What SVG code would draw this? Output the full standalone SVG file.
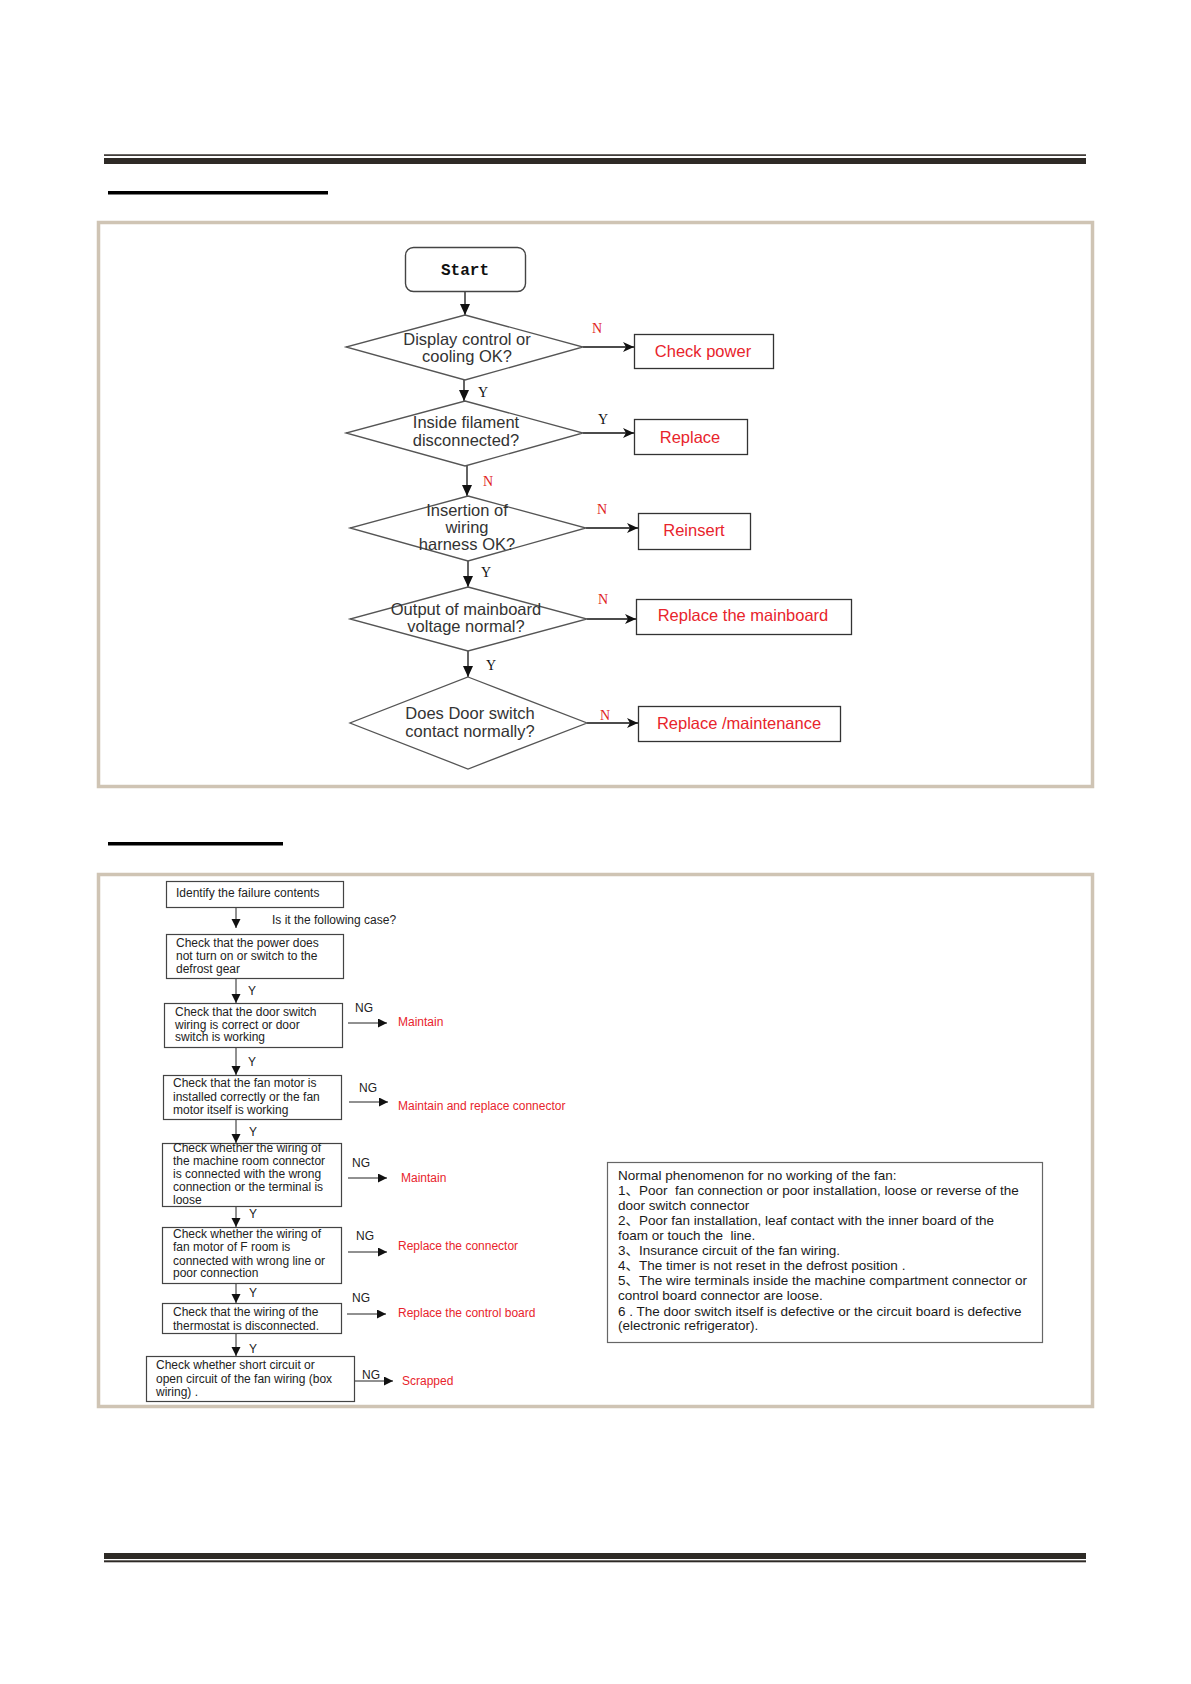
<svg xmlns="http://www.w3.org/2000/svg" width="1191" height="1684" viewBox="0 0 1191 1684">
<style>
.bar{fill:#2e2a26}
.frame{fill:none;stroke:#cfc4b4;stroke-width:3.5}
.dia{fill:#fff;stroke:#555;stroke-width:1.3}
.rbox{fill:#fff;stroke:#333;stroke-width:1.3}
.sbox{fill:#fff;stroke:#444;stroke-width:1.2}
.ln{stroke:#111;stroke-width:1.3;fill:none}
.ln2{stroke:#222;stroke-width:1;fill:none}
.t1{font-family:"Liberation Sans",Arial,sans-serif;font-size:16.5px;fill:#333;text-anchor:middle}
.red1{font-family:"Liberation Sans",Arial,sans-serif;font-size:16.5px;fill:#e8242c;text-anchor:middle}
.yn{font-family:"Liberation Serif","Times New Roman",serif;font-size:14px}
.yr{fill:#e01e1e}
.yb{fill:#111}
.st{font-family:"Liberation Mono","Courier New",monospace;font-size:16px;font-weight:bold;fill:#111;text-anchor:middle}
.t2{font-family:"Liberation Sans",Arial,sans-serif;font-size:12px;fill:#222}
.red2{font-family:"Liberation Sans",Arial,sans-serif;font-size:12px;fill:#e8242c}
.note{font-family:"Liberation Sans",Arial,"Noto Sans CJK SC",sans-serif;font-size:13.5px;fill:#1a1a1a;white-space:pre}
</style>
<defs>
<marker id="ah" markerUnits="userSpaceOnUse" markerWidth="12" markerHeight="12" refX="11" refY="5" orient="auto">
<path d="M0,0 L11,5 L0,10 z" fill="#111"/>
</marker>
<marker id="ah2" markerUnits="userSpaceOnUse" markerWidth="12" markerHeight="12" refX="11" refY="5" orient="auto">
<path d="M0,0 L11,5 L0,10 L3,5 z" fill="#111"/>
</marker>
<marker id="ah3" markerUnits="userSpaceOnUse" markerWidth="10" markerHeight="10" refX="9" refY="4.5" orient="auto">
<path d="M0,0 L9,4.5 L0,9 z" fill="#111"/>
</marker>
</defs>
<rect width="1191" height="1684" fill="#fff"/>

<!-- page header / footer -->
<g id="header">
<rect x="104" y="154.3" width="982" height="1.6" class="bar"/>
<rect x="104" y="158" width="982" height="6" class="bar"/>
<rect x="108" y="191" width="220" height="3.5" fill="#000"/>
</g>
<g id="footer">
<rect x="104" y="1553" width="982" height="6" class="bar"/>
<rect x="104" y="1560.3" width="982" height="2" class="bar"/>
<rect x="108" y="842" width="175" height="3.5" fill="#000"/>
</g>

<!-- frames -->
<rect x="98.5" y="222.5" width="994" height="564" class="frame"/>
<rect x="98.5" y="874.5" width="994" height="532" class="frame"/>

<!-- ============ Flowchart 1 ============ -->
<g id="connectors1">
<line x1="465" y1="291" x2="465" y2="315" class="ln" marker-end="url(#ah)"/>
<line x1="464" y1="380" x2="464" y2="401" class="ln" marker-end="url(#ah)"/>
<line x1="467" y1="466" x2="467" y2="496" class="ln" marker-end="url(#ah)"/>
<line x1="468" y1="561" x2="468" y2="587" class="ln" marker-end="url(#ah)"/>
<line x1="468" y1="651" x2="468" y2="677" class="ln" marker-end="url(#ah)"/>
<line x1="583" y1="347" x2="634" y2="347" class="ln" marker-end="url(#ah2)"/>
<line x1="583" y1="433" x2="634" y2="433" class="ln" marker-end="url(#ah2)"/>
<line x1="586" y1="528" x2="638" y2="528" class="ln" marker-end="url(#ah2)"/>
<line x1="587" y1="619" x2="636" y2="619" class="ln" marker-end="url(#ah2)"/>
<line x1="587" y1="723" x2="638" y2="723" class="ln" marker-end="url(#ah2)"/>
<text x="597" y="333" class="yn yr" text-anchor="middle">N</text>
<text x="483" y="397" class="yn yb" text-anchor="middle">Y</text>
<text x="603" y="424" class="yn yb" text-anchor="middle">Y</text>
<text x="488" y="486" class="yn yr" text-anchor="middle">N</text>
<text x="602" y="514" class="yn yr" text-anchor="middle">N</text>
<text x="486" y="577" class="yn yb" text-anchor="middle">Y</text>
<text x="603" y="604" class="yn yr" text-anchor="middle">N</text>
<text x="491" y="670" class="yn yb" text-anchor="middle">Y</text>
<text x="605" y="720" class="yn yr" text-anchor="middle">N</text>
</g>

<g id="start">
<rect x="405.5" y="247.5" width="120" height="44" rx="8" fill="#fff" stroke="#444" stroke-width="1.4"/>
<text x="465" y="275" class="st">Start</text>
</g>
<g id="d1">
<polygon points="465,315 583,347 465,380 346,347" class="dia"/>
<text x="467" y="345" class="t1">Display control or</text>
<text x="467" y="362" class="t1">cooling OK?</text>
</g>
<g id="d2">
<polygon points="465,401 583,433 465,466 346,433" class="dia"/>
<text x="466" y="428" class="t1">Inside filament</text>
<text x="466" y="446" class="t1">disconnected?</text>
</g>
<g id="d3">
<polygon points="468,496 586,528 468,561 350,528" class="dia"/>
<text x="467" y="516" class="t1">Insertion of</text>
<text x="467" y="533" class="t1">wiring</text>
<text x="467" y="550" class="t1">harness OK?</text>
</g>
<g id="d4">
<polygon points="468,587 587,619 468,651 350,619" class="dia"/>
<text x="466" y="615" class="t1">Output of mainboard</text>
<text x="466" y="632" class="t1">voltage normal?</text>
</g>
<g id="d5">
<polygon points="468,677 587,723 468,769 350,723" class="dia"/>
<text x="470" y="719" class="t1">Does Door switch</text>
<text x="470" y="737" class="t1">contact normally?</text>
</g>
<g id="checkpower">
<rect x="634.5" y="334.5" width="139" height="34" class="rbox"/>
<text x="703" y="357" class="red1">Check power</text>
</g>
<g id="replace">
<rect x="634.5" y="419.5" width="113" height="35" class="rbox"/>
<text x="690" y="443" class="red1">Replace</text>
</g>
<g id="reinsert">
<rect x="638.5" y="513.5" width="112" height="36" class="rbox"/>
<text x="694" y="536" class="red1">Reinsert</text>
</g>
<g id="mainboard">
<rect x="636.5" y="599.5" width="215" height="35" class="rbox"/>
<text x="743" y="621" class="red1">Replace the mainboard</text>
</g>
<g id="maintenance">
<rect x="638.5" y="706.5" width="202" height="35" class="rbox"/>
<text x="739" y="729" class="red1">Replace /maintenance</text>
</g>

<!-- ============ Flowchart 2 ============ -->
<g id="connectors2">
<line x1="236" y1="907" x2="236" y2="928" class="ln2" marker-end="url(#ah3)"/>
<line x1="236" y1="978" x2="236" y2="1003" class="ln2" marker-end="url(#ah3)"/>
<line x1="236" y1="1047" x2="236" y2="1075" class="ln2" marker-end="url(#ah3)"/>
<line x1="236" y1="1119" x2="236" y2="1143" class="ln2" marker-end="url(#ah3)"/>
<line x1="236" y1="1206" x2="236" y2="1227" class="ln2" marker-end="url(#ah3)"/>
<line x1="236" y1="1283" x2="236" y2="1303" class="ln2" marker-end="url(#ah3)"/>
<line x1="236" y1="1333" x2="236" y2="1356" class="ln2" marker-end="url(#ah3)"/>
<line x1="348" y1="1023" x2="387" y2="1023" class="ln2" marker-end="url(#ah3)"/>
<line x1="349" y1="1102" x2="388" y2="1102" class="ln2" marker-end="url(#ah3)"/>
<line x1="348" y1="1178" x2="387" y2="1178" class="ln2" marker-end="url(#ah3)"/>
<line x1="348" y1="1252" x2="387" y2="1252" class="ln2" marker-end="url(#ah3)"/>
<line x1="347" y1="1314" x2="386" y2="1314" class="ln2" marker-end="url(#ah3)"/>
<line x1="354" y1="1381" x2="393" y2="1381" class="ln2" marker-end="url(#ah3)"/>
<text x="272" y="924" class="t2">Is it the following case?</text>
<text x="248" y="995" class="t2">Y</text>
<text x="248" y="1066" class="t2">Y</text>
<text x="249" y="1136" class="t2">Y</text>
<text x="249" y="1218" class="t2">Y</text>
<text x="249" y="1297" class="t2">Y</text>
<text x="249" y="1353" class="t2">Y</text>
<text x="355" y="1012" class="t2">NG</text>
<text x="359" y="1092" class="t2">NG</text>
<text x="352" y="1167" class="t2">NG</text>
<text x="356" y="1240" class="t2">NG</text>
<text x="352" y="1302" class="t2">NG</text>
<text x="362" y="1379" class="t2">NG</text>
<text x="398" y="1026" class="red2">Maintain</text>
<text x="398" y="1110" class="red2">Maintain and replace connector</text>
<text x="401" y="1182" class="red2">Maintain</text>
<text x="398" y="1250" class="red2">Replace the connector</text>
<text x="398" y="1317" class="red2">Replace the control board</text>
<text x="402" y="1385" class="red2">Scrapped</text>
</g>
<g id="identify">
<rect x="166.5" y="881.5" width="177" height="26" class="sbox"/>
<text x="176" y="897" class="t2">Identify the failure contents</text>
</g>
<g id="power">
<rect x="166.5" y="934.5" width="177" height="44" class="sbox"/>
<text x="176" y="947" class="t2">Check that the power does</text>
<text x="176" y="960" class="t2">not turn on or switch to the</text>
<text x="176" y="973" class="t2">defrost gear</text>
</g>
<g id="doorswitch">
<rect x="164.5" y="1003.5" width="178" height="44" class="sbox"/>
<text x="175" y="1016" class="t2">Check that the door switch</text>
<text x="175" y="1029" class="t2">wiring is correct or door</text>
<text x="175" y="1041" class="t2">switch is working</text>
</g>
<g id="fanmotor">
<rect x="163.5" y="1075.5" width="178" height="44" class="sbox"/>
<text x="173" y="1087" class="t2">Check that the fan motor is</text>
<text x="173" y="1101" class="t2">installed correctly or the fan</text>
<text x="173" y="1114" class="t2">motor itself is working</text>
</g>
<g id="machineroom">
<rect x="162.5" y="1143.5" width="179" height="63" class="sbox"/>
<text x="173" y="1152" class="t2">Check whether the wiring of</text>
<text x="173" y="1165" class="t2">the machine room connector</text>
<text x="173" y="1178" class="t2">is connected with the wrong</text>
<text x="173" y="1191" class="t2">connection or the terminal is</text>
<text x="173" y="1204" class="t2">loose</text>
</g>
<g id="froom">
<rect x="162.5" y="1227.5" width="179" height="56" class="sbox"/>
<text x="173" y="1238" class="t2">Check whether the wiring of</text>
<text x="173" y="1251" class="t2">fan motor of F room is</text>
<text x="173" y="1265" class="t2">connected with wrong line or</text>
<text x="173" y="1277" class="t2">poor connection</text>
</g>
<g id="thermostat">
<rect x="162.5" y="1303.5" width="179" height="30" class="sbox"/>
<text x="173" y="1316" class="t2">Check that the wiring of the</text>
<text x="173" y="1330" class="t2">thermostat is disconnected.</text>
</g>
<g id="shortcircuit">
<rect x="146.5" y="1356.5" width="208" height="45" class="sbox"/>
<text x="156" y="1369" class="t2">Check whether short circuit or</text>
<text x="156" y="1383" class="t2">open circuit of the fan wiring (box</text>
<text x="156" y="1396" class="t2">wiring) .</text>
</g>
<g id="notes">
<rect x="607.5" y="1162.5" width="435" height="180" fill="#fff" stroke="#666" stroke-width="1.2"/>
<text x="618" y="1180" class="note">Normal phenomenon for no working of the fan:</text>
<text x="618" y="1195" class="note">1、Poor  fan connection or poor installation, loose or reverse of the</text>
<text x="618" y="1210" class="note">door switch connector</text>
<text x="618" y="1225" class="note">2、Poor fan installation, leaf contact with the inner board of the</text>
<text x="618" y="1240" class="note">foam or touch the  line.</text>
<text x="618" y="1255" class="note">3、Insurance circuit of the fan wiring.</text>
<text x="618" y="1270" class="note">4、The timer is not reset in the defrost position .</text>
<text x="618" y="1285" class="note">5、The wire terminals inside the machine compartment connector or</text>
<text x="618" y="1300" class="note">control board connector are loose.</text>
<text x="618" y="1316" class="note">6 . The door switch itself is defective or the circuit board is defective</text>
<text x="618" y="1330" class="note">(electronic refrigerator).</text>
</g>
</svg>
